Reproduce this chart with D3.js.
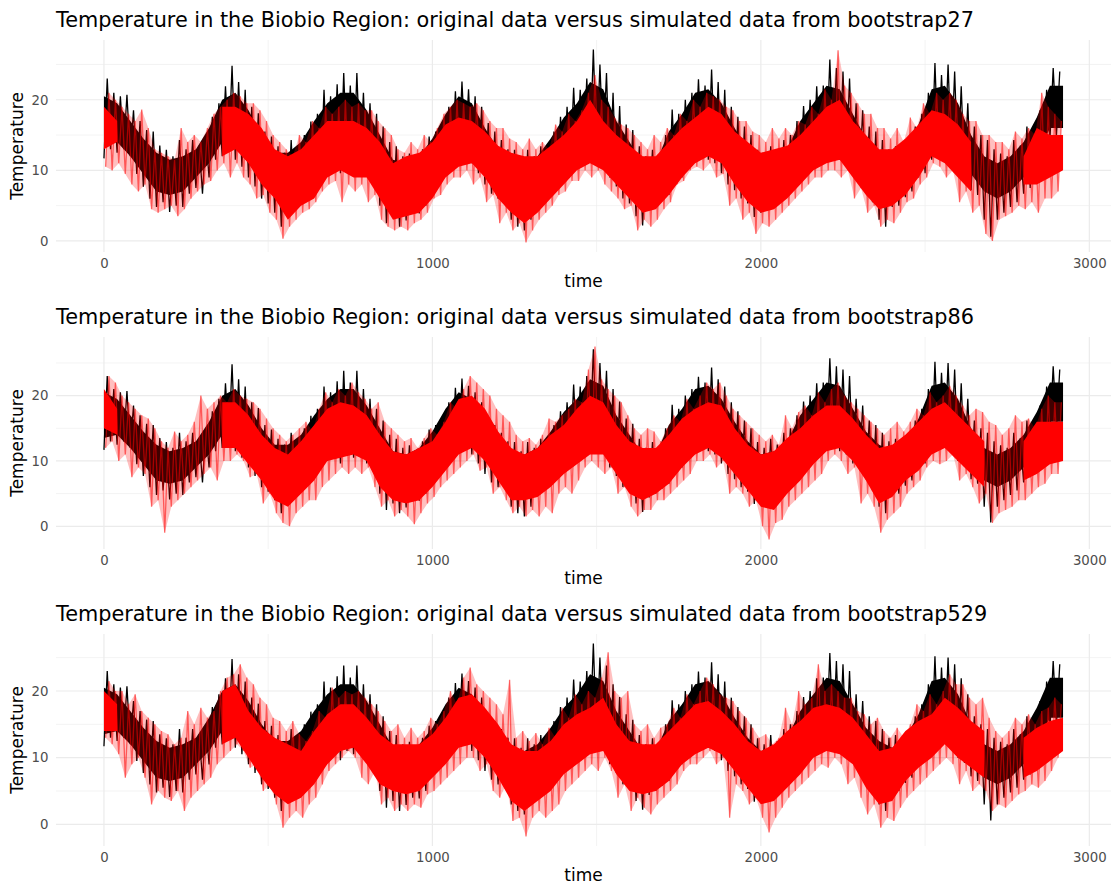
<!DOCTYPE html>
<html>
<head>
<meta charset="utf-8">
<script src="https://cdn.jsdelivr.net/npm/d3@7"></script>
<style>
  html, body { margin: 0; padding: 0; background: #ffffff; }
  svg text { font-family: "DejaVu Sans", sans-serif; }
</style>
</head>
<body>
<svg id="chart" width="1118" height="888"></svg>
<script>
// ---------------------------------------------------------------------------
// Data: daily temperature summarised in 20-day bins (lowest / highest value of
// each bin), the simulated series in the same bins, plus the dense central
// band of each series on a 40-day grid (null = no dense band there).
// ---------------------------------------------------------------------------
const binStart = d3.range(0, 2901, 20);     // 146 bins
const coreDays = d3.range(0, 2921, 40);     // 74 points

const titles = [
  "Temperature in the Biobio Region: original data versus simulated data from bootstrap27",
  "Temperature in the Biobio Region: original data versus simulated data from bootstrap86",
  "Temperature in the Biobio Region: original data versus simulated data from bootstrap529"
];

const xTicks = [0, 1000, 2000, 3000];
const xMinor = [500, 1500, 2500];
const yTicks = [0, 10, 20];
const yMinor = [5, 15, 25];

// original series
const blackHi = [
  23, 21, 20.5, 20.7, 18.5, 17, 15.7, 15.5, 13.5, 12.9,
  12, 14.3, 13, 14.3, 13.5, 15, 17.6, 19.5, 21.9, 24.8,
  22.5, 21.4, 19, 18.1, 15.5, 14.8, 13.4, 12.5, 14.3, 13,
  15, 16.9, 18, 21.4, 20.5, 22.2, 23.8, 22, 23.8, 21,
  19.5, 18, 16.2, 14, 13.4, 12, 12.4, 11.5, 13, 14.8,
  15.5, 16.7, 19, 21.2, 22.6, 21.5, 20.5, 19, 16.7, 15.5,
  14.3, 13, 12.9, 11.5, 12.9, 12, 13.4, 13, 15.5, 17.6,
  19, 21.7, 21.4, 23, 27.1, 25, 23.8, 21, 19.1, 16.5,
  15.7, 13.4, 12, 12.9, 12, 15, 18.6, 18, 20, 21,
  22.9, 22, 24.3, 22.5, 21.4, 19, 17.6, 16.2, 15, 12.9,
  12, 13.4, 12.5, 14.3, 15, 17, 19.1, 20, 21.9, 22,
  25.7, 24.5, 24, 23, 19.5, 18.5, 16.2, 15.5, 14.3, 13,
  13.4, 12.5, 14, 16.2, 18, 21, 25.2, 23.5, 25, 24,
  21.9, 19.5, 16.2, 15, 14.3, 13, 12.4, 12, 14.3, 13.5,
  16.2, 15.5, 18.5, 21.4, 24.5, 24
];
const blackLo = [
  11.7, 13, 12.5, 13, 12, 9.5, 7.7, 6, 4.8, 5.5,
  4.1, 5, 4.8, 6.7, 7.5, 6.7, 9, 11.5, 12, 12.9,
  11.5, 10.5, 9, 7.7, 6, 5.3, 4, 2, 4.4, 5,
  6.3, 7, 7.7, 9, 10, 10.5, 9.6, 11, 10.5, 11.5,
  9.6, 9, 5, 2.5, 3.5, 2, 2.9, 4, 3.9, 5,
  8.2, 8.5, 9.6, 10.5, 12, 12.5, 11, 9.6, 8, 6.7,
  6, 5.8, 3, 2, 1.5, 3, 4.8, 5.5, 6.7, 8,
  9.6, 10.5, 11.5, 12, 13, 12.4, 13, 9, 7.7, 6,
  5.3, 3.5, 2.2, 4.4, 5, 5.8, 6.5, 8.6, 9, 11,
  11.5, 12, 11.5, 11, 9.6, 8, 7.2, 6, 5.3, 3.4,
  4, 4.8, 5, 5.8, 6.5, 8.6, 9, 10.5, 10.5, 12,
  12.9, 13, 11.5, 11, 9.6, 9, 7.2, 5.5, 3, 2,
  4.8, 5, 6.2, 7, 9, 9.6, 11.5, 12, 12.9, 12,
  10, 9.2, 7.2, 6.5, 3, 0.6, 3, 4, 4.8, 5.5,
  6.7, 7.5, 10.5, 11, 14.3, 15
];
const blackCoreLo = [
  13.5, 14, 12, 9.5, 7, 6.5, 7, 9, 11, 14,
  13.5, 11, 8.5, 6.5, 6, 8, 10, 12, 12.5, 13,
  11.5, 8, 6, 5.5, 6.5, 10, 11.5, 14, 13, 10,
  8, 6, 5, 7, 9, 11.5, 13, 15, 14.5, 10,
  7.5, 5.5, 6.5, 9, 11.5, 13.5, 13.5, 12, 9.5, 7.5,
  6.5, 7, 8.5, 11, 12.5, 14.5, 14, 11.5, 9.5, 6.5,
  7, 8.5, 11, 14, 14.5, 12.5, 9.5, 7, 6, 7,
  9, 12, 16, 16
];
const blackCoreHi = [
  20.5, 19.5, 17, 14.5, 12.5, 11.5, 12, 13, 16, 20,
  21, 18.5, 15, 12.5, 12.5, 14, 17, 19.5, 21, 21,
  18.5, 15, 11.5, 11, 12, 14.5, 18, 20.5, 19.5, 16,
  13, 11.5, 11, 12, 14.5, 17.5, 19.5, 22.5, 21.5, 17,
  14, 11, 11, 15.5, 18, 21, 21.5, 19.5, 16, 13,
  11, 11.5, 13, 17, 19.5, 22, 21.5, 18, 14.5, 12.5,
  11.5, 13, 16.5, 21.5, 22, 19.5, 15, 12, 11, 12,
  14, 17.5, 22, 22
];

// simulated series: bootstrap27
const sim27Hi = [
  21, 20, 19, 18, 17, 18.6, 16, 13, 12.5, 12,
  11.5, 16, 14, 15, 14, 16, 18, 19, 20, 21,
  20.5, 19.5, 19.5, 18.5, 17, 15, 14, 13, 12, 15,
  14, 17, 16, 19, 18, 19, 20, 19, 19.5, 18.5,
  18.5, 17, 16, 15, 13, 12.5, 14, 13, 15, 14,
  16, 18, 19, 20, 19.5, 19, 19.5, 18.5, 17, 16,
  16, 14.5, 14, 13, 14.5, 13, 14, 13, 16.5, 15.5,
  18, 17, 18.5, 21, 23.5, 20, 19, 17.5, 16.5, 16,
  15, 14, 13, 15, 14, 16, 15, 18, 17, 20,
  19, 21, 20.5, 20, 19, 18.5, 17, 17, 15.5, 15,
  14, 16, 14.5, 16, 15, 17, 16.5, 19, 18, 21.5,
  20, 27, 22, 21, 19.5, 18, 18, 16, 16, 14.5,
  16, 14, 17.5, 16, 19.5, 18, 21, 20, 21, 20,
  18, 17, 17, 15, 15, 14, 14, 13, 15.5, 14.5,
  16, 15, 21, 19, 18, 17
];
const sim27Lo = [
  10.5, 10, 11, 9.5, 8, 7, 8, 4.5, 4, 4.5,
  5, 3.5, 4.5, 6, 7, 8, 8.5, 10, 11, 9,
  11, 9, 8, 6, 6.5, 4, 3, 0.3, 2, 3,
  4, 4.5, 5.5, 7, 8, 8.5, 5.5, 8, 7, 8,
  5.5, 6.5, 3, 2, 1.5, 2, 1.5, 2.5, 3, 4,
  6, 6.5, 8, 9, 9, 10, 8, 9, 5.5, 6.5,
  2.5, 4, 1.5, 2.5, -0.2, 1.5, 3, 4, 5, 6.5,
  7, 8.5, 8.5, 10, 9, 10, 8, 7, 6, 4.5,
  5, 1.5, 3, 2, 3, 4.5, 5.5, 8, 8.5, 10,
  10.5, 10, 11, 9, 9.5, 5, 6, 3, 4, 1,
  2.5, 2, 3, 4, 5, 6, 7, 8, 9, 9,
  10, 10, 9, 10, 6, 7.5, 4, 5, 2, 3,
  2.5, 4, 5.5, 6, 8, 9, 11, 10.5, 9, 10,
  5.5, 7, 4, 5, 1, 0, 3, 3.5, 4, 5,
  4.5, 5.5, 4, 6, 6, 7
];
const sim27CoreLo = [
  13, 14, null, null, null, null, null, null, null, 12,
  13, 11, 8, 6, 3, 5, 6, 9, 10, 9,
  9, 6, 3, 3.5, 4, 6, 9, 10.5, 11, 9,
  6, 4, 2.5, 4, 6, 8, 10, 11, 10, 8,
  6, 4, 4.5, 6.5, 9, 11, 12, 11, 8, 5.5,
  4, 4.5, 6, 8, 10, 11, 11.5, 9, 6.5, 4.5,
  5, 6.5, 9, 12, 11, 9, 7, null, null, null,
  8, 8, 9, 10
];
const sim27CoreHi = [
  19, 17, null, null, null, null, null, null, null, 19,
  19, 18, 16, 13, 12, 13, 15, 17, 17, 17,
  16, 14, 11, 12, 12.5, 14, 16.5, 17.5, 17, 15.5,
  13.5, 12.5, 12, 12, 13.5, 15, 17, 20, 17, 15,
  13.5, 12, 12, 14, 16, 17.5, 19, 18, 15.5, 14,
  12.5, 13, 13.5, 15, 17, 19, 20, 17, 15, 13,
  13, 14.5, 16.5, 18.5, 18, 16.5, 14, null, null, null,
  12, 16, 15, 15
];

// simulated series: bootstrap86
const sim86Hi = [
  23, 22, 20, 19, 18, 17, 16.5, 15, 13, 12,
  14.5, 13, 14, 16, 20, 18, 19, 20, 19, 21,
  20, 19.5, 19, 18, 16.5, 15, 14, 13, 14, 15,
  16, 14.5, 18, 20.5, 19, 21, 20, 22, 20.5, 19.5,
  18, 19, 16, 15, 14, 13, 13.5, 12, 13.5, 15,
  14, 16, 19, 18, 21, 23, 22, 21, 20, 18,
  17, 16, 14, 13, 13.5, 12.5, 14, 16.5, 16, 17,
  18, 19.5, 19, 24, 27.5, 22.5, 21, 20, 19, 17,
  15, 14, 15, 14.5, 13, 15, 17, 16, 19.5, 18,
  20, 22, 21, 22, 20, 18, 17, 16, 15, 14,
  13, 14, 12.5, 17, 15, 17.5, 18.5, 17, 20.5, 19,
  21, 22, 20, 19, 18, 17, 16, 15, 14, 15,
  16, 14.5, 16, 18, 17, 20.5, 19, 20, 21.5, 20,
  18.5, 17, 18, 17.5, 16, 15.5, 14, 15, 17, 16,
  16.5, 15, 18, 20, 19, 19
];
const sim86Lo = [
  12, 13, 10, 11, 7.5, 9, 8, 3, 4, -1,
  3, 4, 5, 6, 7, 8, 9, 7, 10, 10,
  11, 10, 7.5, 8, 3.5, 5, 2, 0.5, 0, 2,
  3, 4, 4, 6, 7, 8, 9, 8, 9, 8,
  9, 6, 3, 4, 1.5, 2.5, 1.5, 0.3, 2, 3.5,
  4.5, 6, 7, 8, 9, 10, 11, 8.5, 9, 5,
  6, 4, 2, 3, 1.5, 2.5, 1.5, 3, 2, 5,
  6, 5, 7, 9, 10, 9, 8, 9, 5, 6,
  3, 1.5, 2.5, 2.5, 4, 4, 5, 6, 7, 8,
  10, 10, 11, 9, 10, 5, 6, 5, 3, 4,
  0, -2, 0.5, 1, 3, 4, 5, 6, 7, 8,
  10, 11, 10, 8, 9, 3.5, 5, 3, -1, 1,
  2, 3, 5, 6, 7, 9, 10, 9.5, 10, 11,
  7, 8, 6, 3.5, 5, 0.5, 2, 2.5, 3, 4,
  4, 5, 6, 6.5, 8, 8
];
const sim86CoreLo = [
  15, 14, null, null, null, null, null, null, null, 12,
  12, 9.5, 7, 4, 3, 5, 7, 10, 10.5, 11,
  10, 6, 4, 3.5, 4, 6, 8.5, 11, 12, 10,
  7, 4, 4, 4.5, 6, 8, 9.5, 11, 11, 8,
  5, 4, 5, 6.5, 9, 11, 12, 10.5, 8, 5.5,
  3, 2.5, 5, 7, 9.5, 11.5, 12, 10, 7, 3.5,
  4.5, 7, 8.5, 11, 12, 10, 8, 6, null, null,
  7, 8, 9.5, 10
];
const sim86CoreHi = [
  21, 18, null, null, null, null, null, null, null, 19,
  19, 17, 14, 12, 11, 13, 15.5, 18, 19, 18.5,
  17, 14, 11.5, 11, 12, 13, 16, 19.5, 20, 18,
  14.5, 12, 11, 12, 14, 15.5, 18, 20, 19, 15.5,
  13, 12, 12, 14, 16.5, 18, 19, 18.5, 15, 12.5,
  11, 11.5, 13.5, 15, 17, 18.5, 18.5, 16.5, 14, 12,
  12.5, 14, 16, 18, 19, 17, 15, 13, null, null,
  13, 16, 16, 16
];

// simulated series: bootstrap529
const sim529Hi = [
  21.5, 20, 20, 18, 19.5, 17, 16, 15, 14, 13.5,
  12, 13, 17, 15, 17.5, 16, 17, 20, 22, 22.5,
  24, 22, 21, 19, 18, 16, 15.5, 14, 15.5, 13.5,
  12.5, 14, 17, 16, 20.5, 19, 20, 19.5, 20, 19,
  18, 17, 15.5, 14, 15, 13, 14.5, 13, 14, 16,
  15, 17, 20, 18, 22, 23.5, 21, 20, 19, 18,
  16.5, 21.7, 13, 14, 12.5, 13.7, 12, 14.5, 13, 17.5,
  16, 19.5, 18, 20, 19, 22, 25.8, 20, 19, 20,
  15, 14, 15, 13, 14.5, 15, 17.5, 16, 19.5, 18,
  20, 22, 21, 19.5, 19, 18.5, 17, 16, 14.5, 13,
  13.5, 12, 13, 17.5, 15, 20, 18, 19, 24, 20,
  21, 20, 19, 19, 17, 16.5, 15, 16, 14, 13,
  14.5, 13, 15, 18, 17, 19.5, 18, 20, 22.5, 21,
  21, 19, 18, 19, 16, 14, 13, 14, 16, 15,
  16.5, 15, 17, 17.5, 19, 18
];
const sim529Lo = [
  13, 12, 10.5, 7, 9, 10, 7, 3, 5, 4,
  3.5, 5, 2, 4, 5, 6, 7, 9, 10, 11,
  12, 11, 8.5, 9, 5, 6, 3, -0.5, 1, 2,
  1, 3, 4, 6, 8, 9, 10, 11, 10, 7,
  6, 8, 3, 4, 2, 3, 2, 3, 2.5, 4.5,
  5, 6, 7, 8, 9, 10, 10, 8, 9, 5,
  4, 6, 0.5, 1, -1.8, 1, 2, 1, 2, 3,
  5, 6, 7, 8, 9, 8, 10, 8, 4, 6,
  2, 4, 2.5, 1.5, 3, 4, 5, 6, 8, 9,
  9, 10, 11, 9, 10, 1, 6, 5, 3, 4,
  1, -1.2, 1, 2.5, 4, 5, 6, 7, 8, 9,
  8.5, 10, 9, 6, 7, 4, 1.5, 3, -0.5, 1,
  0.5, 2.5, 4, 5, 6, 7, 8, 9, 10, 9,
  6, 8, 5, 6, 5, 2, 3, 2.5, 3.5, 4.5,
  5, 6, 5.5, 6.5, 8, 10
];
const sim529CoreLo = [
  14, 14, null, null, null, null, null, null, null, 12,
  13, 10, 7, 4.5, 3, 4, 6, 9, 11, 11.5,
  9, 6, 5, 4.5, 5, 7, 9, 11.5, 12, 10,
  7, 3.5, 2, 3.5, 5, 7.5, 9, 10.5, 11, 7.5,
  5, 4.5, 5, 6.5, 9, 10.5, 11.5, 10.5, 8, 5.5,
  3, 3.5, 5.5, 7.5, 10, 11, 10.5, 9, 5.5, 3,
  3.5, 6.5, 8.5, 10, 12, 10, 8.5, 7, null, null,
  7, 8, 9.5, 11
];
const sim529CoreHi = [
  20, 18, null, null, null, null, null, null, null, 20,
  21, 17, 14.5, 13, 12, 11, 14, 16.5, 18, 18,
  16, 13.5, 12, 12, 12, 13.5, 16, 19, 19.5, 17.5,
  15, 12, 11, 11, 12.5, 15, 16.5, 17.5, 19, 15,
  12.5, 12, 12, 14, 16, 18, 18.5, 17, 15, 12.5,
  11, 12, 14, 15.5, 17.5, 18, 17.5, 16, 13.5, 11,
  11.5, 14, 15.5, 16.5, 19, 17.5, 15.5, 14, null, null,
  13, 14.5, 15.5, 16
];

const sims = [
  { lo: sim27Lo,  hi: sim27Hi,  coreLo: sim27CoreLo,  coreHi: sim27CoreHi },
  { lo: sim86Lo,  hi: sim86Hi,  coreLo: sim86CoreLo,  coreHi: sim86CoreHi },
  { lo: sim529Lo, hi: sim529Hi, coreLo: sim529CoreLo, coreHi: sim529CoreHi }
];

// ---------------------------------------------------------------------------
// Layout
// ---------------------------------------------------------------------------
const panelStep = 297;
const plotLeft = 56, plotRight = 1111, plotTop = 40, plotBottom = 252;
const gridColour = "#ebebeb";
const tickColour = "#4d4d4d";

const expand = ([a, b]) => { const p = (b - a) * 0.05; return [a - p, b + p]; };

const svg = d3.select("#chart");

const x = d3.scaleLinear()
  .domain(expand(d3.extent(binStart.concat(coreDays))))
  .range([plotLeft, plotRight]);

const blackBins = binStart.map((t, i) => ({ t, lo: blackLo[i], hi: blackHi[i] }));
const blackCore = coreDays.map((t, i) => ({ t, lo: blackCoreLo[i], hi: blackCoreHi[i] }));

sims.forEach((s, k) => {
  const g = svg.append("g").attr("transform", `translate(0,${k * panelStep})`);

  const y = d3.scaleLinear()
    .domain(expand(d3.extent(blackLo.concat(blackHi, s.lo, s.hi))))
    .range([plotBottom, plotTop]);

  // grid: minor first, then major
  g.append("g").selectAll("line").data(xMinor).join("line")
    .attr("x1", d => x(d)).attr("x2", d => x(d))
    .attr("y1", plotTop).attr("y2", plotBottom)
    .attr("stroke", gridColour).attr("stroke-width", 0.6);
  g.append("g").selectAll("line").data(yMinor).join("line")
    .attr("x1", plotLeft).attr("x2", plotRight)
    .attr("y1", d => y(d)).attr("y2", d => y(d))
    .attr("stroke", gridColour).attr("stroke-width", 0.6);
  g.append("g").selectAll("line").data(xTicks).join("line")
    .attr("x1", d => x(d)).attr("x2", d => x(d))
    .attr("y1", plotTop).attr("y2", plotBottom)
    .attr("stroke", gridColour).attr("stroke-width", 1.2);
  g.append("g").selectAll("line").data(yTicks).join("line")
    .attr("x1", plotLeft).attr("x2", plotRight)
    .attr("y1", d => y(d)).attr("y2", d => y(d))
    .attr("stroke", gridColour).attr("stroke-width", 1.2);

  const bandArea = d3.area()
    .defined(d => d.lo != null && d.hi != null)
    .x(d => x(d.t))
    .y0(d => y(d.lo)).y1(d => y(d.hi));
  const zigLine = d3.line().x(d => x(d[0])).y(d => y(d[1]));

  // original series: dense centre plus the daily swings of each bin
  g.append("path").datum(blackCore)
    .attr("d", bandArea)
    .attr("fill", "#000");
  g.append("path")
    .datum(blackBins.flatMap(d => [[d.t, d.lo], [d.t + 10, d.hi]]))
    .attr("d", zigLine)
    .attr("fill", "none")
    .attr("stroke", "#000").attr("stroke-width", 1.3)
    .attr("stroke-linejoin", "miter");

  // simulated series
  const simBins = binStart.map((t, i) => ({ t, lo: s.lo[i], hi: s.hi[i] }));
  const simArea = d3.area()
    .x0(d => x(d.t + 5)).x1(d => x(d.t + 15))
    .y0(d => y(d.lo)).y1(d => y(d.hi));
  g.append("path").datum(simBins)
    .attr("d", simArea)
    .attr("fill", "#ff0000").attr("fill-opacity", 0.25);

  const core = coreDays.map((t, i) => ({ t, lo: s.coreLo[i], hi: s.coreHi[i] }));
  g.append("path").datum(core)
    .attr("d", bandArea)
    .attr("fill", "#ff0000");

  g.append("path")
    .datum(simBins.flatMap(d => [[d.t + 5, d.lo], [d.t + 15, d.hi]]))
    .attr("d", zigLine)
    .attr("fill", "none")
    .attr("stroke", "#ff0000").attr("stroke-opacity", 0.55)
    .attr("stroke-width", 1.3)
    .attr("stroke-linejoin", "miter");

  // axes (labels only, as in a minimal theme)
  const xAxis = g.append("g")
    .attr("transform", `translate(0,${plotBottom})`)
    .call(d3.axisBottom(x).tickValues(xTicks).tickSize(0).tickPadding(6.5).tickFormat(d3.format("d")));
  xAxis.select(".domain").remove();
  xAxis.selectAll("text").attr("fill", tickColour).style("font-size", "13.3px");

  const yAxis = g.append("g")
    .attr("transform", `translate(${plotLeft},0)`)
    .call(d3.axisLeft(y).tickValues(yTicks).tickSize(0).tickPadding(7.5).tickFormat(d3.format("d")));
  yAxis.select(".domain").remove();
  yAxis.selectAll("text").attr("fill", tickColour).style("font-size", "13.3px");

  // axis titles
  g.append("text")
    .attr("x", (plotLeft + plotRight) / 2).attr("y", 287)
    .attr("text-anchor", "middle")
    .style("font-size", "17px").attr("fill", "#000")
    .text("time");
  g.append("text")
    .attr("transform", `translate(23,${(plotTop + plotBottom) / 2}) rotate(-90)`)
    .attr("text-anchor", "middle")
    .style("font-size", "17px").attr("fill", "#000")
    .text("Temperature");

  // plot title
  g.append("text")
    .attr("x", plotLeft).attr("y", 27)
    .style("font-size", "20.8px").attr("fill", "#000")
    .text(titles[k]);
});
</script>
</body>
</html>
